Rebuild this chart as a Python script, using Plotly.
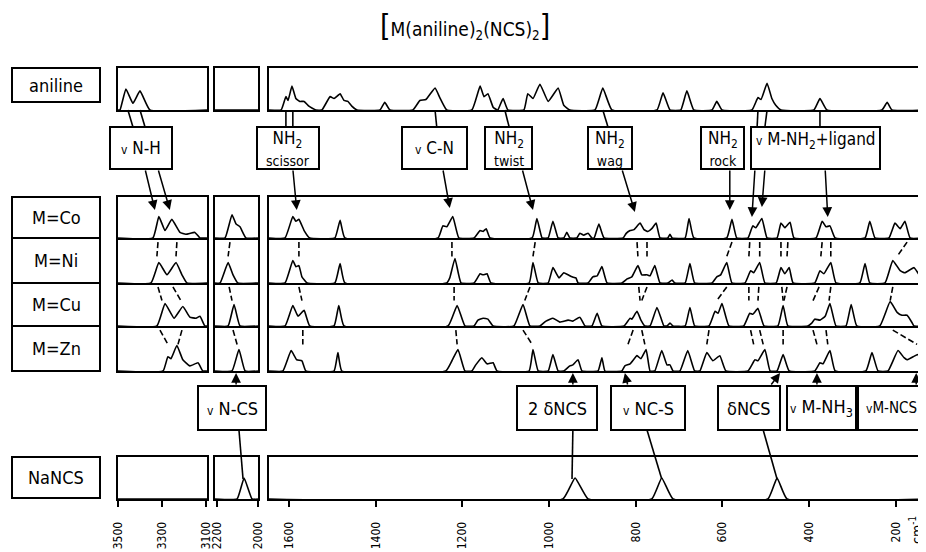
import plotly.graph_objects as go

# ------------------------------------------------------------------ data
row_names = ["aniline", "M=Co", "M=Ni", "M=Cu", "M=Zn", "NaNCS"]
panel_ranges = [(3500, 3095), (2210, 2000), (1646, 135)]
tick_values = [[3500, 3300, 3100], [2200, 2000],
               [1600, 1400, 1200, 1000, 800, 600, 400, 200]]
tick_labels = [[str(v) for v in t] for t in tick_values]

# spectra: (wavenumber cm-1, relative intensity) vertices
aniline_hi = [(3491, 0), (3464, 22), (3432, 7), (3400, 20), (3355, 0)]
aniline_ncs = []
aniline_lo = [(1618, 0), (1607, 14), (1602, 10), (1593, 25), (1584, 12), (1575, 9), (1565, 9), (1554, 4), (1538, 0),
              (1524, 0), (1505, 14), (1496, 12), (1482, 17), (1473, 10), (1464, 9), (1455, 4), (1443, 0),
              (1390, 0), (1379, 8), (1367, 0),
              (1314, 0), (1298, 10), (1284, 11), (1263, 23), (1252, 13), (1236, 0),
              (1178, 0), (1159, 25), (1150, 14), (1141, 17), (1129, 3), (1120, 0),
              (1118, 0), (1106, 12), (1095, 0),
              (1058, 0), (1049, 17), (1037, 12), (1021, 27), (1002, 9), (979, 23), (966, 5), (952, 0),
              (894, 0), (876, 23), (855, 0),
              (751, 0), (737, 18), (721, 0),
              (696, 0), (682, 20), (666, 0),
              (624, 0), (613, 9), (601, 0),
              (532, 0), (518, 13), (511, 11), (497, 28), (486, 12), (477, 5), (465, 0),
              (389, 0), (375, 12), (359, 0),
              (232, 0), (220, 8), (209, 0)]

co_hi = [(3341, 0), (3314, 23), (3286, 8), (3255, 20), (3218, 6), (3191, 4), (3150, 6), (3127, 0)]
co_ncs = [(2161, 0), (2127, 25), (2107, 15), (2088, 12), (2059, 0)]
co_lo = [(1609, 0), (1591, 23), (1584, 18), (1577, 20), (1565, 8), (1552, 0),
         (1494, 0), (1482, 19), (1471, 0),
         (1256, 0), (1245, 13), (1236, 12), (1222, 23), (1208, 0),
         (1173, 0), (1159, 8), (1152, 7), (1145, 10), (1136, 0),
         (1039, 0), (1028, 21), (1016, 0),
         (1002, 0), (991, 18), (979, 0),
         (966, 0), (959, 6), (952, 0),
         (936, 0), (929, 5), (920, 3), (910, 5), (901, 0),
         (896, 0), (885, 15), (873, 0),
         (829, 0), (822, 5), (813, 8), (804, 9), (790, 16), (781, 9), (772, 7), (763, 10), (753, 16), (744, 0),
         (726, 0), (721, 4), (716, 0),
         (686, 0), (677, 21), (666, 0),
         (590, 0), (578, 20), (567, 0),
         (541, 0), (530, 13), (523, 11), (509, 21), (497, 0),
         (474, 0), (465, 16), (456, 11), (444, 17), (435, 0),
         (384, 0), (370, 18), (361, 12), (352, 13), (340, 0),
         (271, 0), (260, 18), (248, 0),
         (216, 0), (202, 16), (190, 10), (179, 18), (167, 0)]

ni_hi = [(3350, 0), (3314, 20), (3277, 8), (3236, 20), (3209, 8), (3186, 0)]
ni_ncs = [(2185, 0), (2146, 20), (2122, 8), (2098, 0)]
ni_lo = [(1609, 0), (1591, 22), (1584, 16), (1577, 17), (1570, 6), (1558, 0),
         (1494, 0), (1482, 19), (1471, 0),
         (1236, 0), (1229, 5), (1217, 24), (1203, 0),
         (1173, 0), (1159, 9), (1152, 8), (1143, 9), (1134, 0),
         (1046, 0), (1037, 20), (1025, 0),
         (1002, 0), (991, 15), (977, 5), (966, 10), (956, 8), (947, 6), (938, 5), (933, 0),
         (910, 0), (899, 6), (889, 7), (878, 16), (866, 0),
         (832, 0), (820, 4), (809, 6), (795, 17), (786, 8), (774, 8), (767, 7), (756, 17), (744, 0),
         (726, 0), (716, 3), (710, 0),
         (686, 0), (675, 19), (664, 0),
         (624, 0), (613, 6), (604, 8), (590, 20), (578, 0),
         (548, 0), (535, 12), (528, 10), (514, 20), (502, 0),
         (476, 0), (465, 15), (456, 9), (446, 15), (437, 0),
         (387, 0), (375, 12), (366, 9), (350, 20), (338, 0),
         (283, 0), (271, 19), (260, 0),
         (225, 0), (207, 22), (190, 12), (179, 10), (158, 15), (142, 5), (135, 0)]

cu_hi = [(3323, 0), (3286, 23), (3245, 8), (3205, 20), (3173, 9), (3145, 8), (3127, 10), (3105, 0)]
cu_ncs = [(2146, 0), (2117, 22), (2088, 0)]
cu_lo = [(1609, 0), (1591, 21), (1579, 10), (1565, 16), (1552, 0),
         (1496, 0), (1485, 21), (1473, 0),
         (1233, 0), (1212, 21), (1194, 0),
         (1173, 0), (1164, 6), (1152, 8), (1141, 7), (1129, 0),
         (1081, 0), (1060, 22), (1044, 0),
         (1021, 0), (1007, 5), (991, 8), (975, 4), (956, 6), (945, 5), (929, 9), (917, 0),
         (901, 0), (889, 13), (878, 0),
         (827, 0), (813, 8), (809, 7), (797, 15), (788, 6), (779, 0),
         (767, 0), (751, 19), (735, 0),
         (728, 0), (721, 3), (714, 0),
         (686, 0), (675, 19), (664, 0),
         (631, 0), (617, 15), (610, 13), (601, 23), (585, 0),
         (551, 0), (537, 13), (530, 12), (518, 18), (504, 0),
         (472, 0), (460, 21), (449, 0),
         (403, 0), (394, 3), (387, 7), (375, 6), (363, 10), (352, 23), (338, 0),
         (315, 0), (303, 22), (290, 0),
         (237, 0), (213, 25), (197, 14), (186, 11), (174, 11), (162, 3), (158, 0)]

zn_hi = [(3295, 0), (3273, 14), (3259, 12), (3232, 25), (3205, 11), (3173, 5), (3136, 8), (3114, 0)]
zn_ncs = [(2127, 0), (2093, 21), (2063, 0)]
zn_lo = [(1614, 0), (1595, 20), (1582, 11), (1570, 10), (1561, 0),
         (1496, 0), (1487, 18), (1478, 0),
         (1238, 0), (1224, 10), (1210, 21), (1194, 0),
         (1178, 0), (1169, 6), (1155, 13), (1143, 7), (1129, 8), (1120, 0),
         (1046, 0), (1037, 21), (1025, 0),
         (1002, 0), (991, 16), (979, 0),
         (966, 0), (952, 5), (945, 6), (933, 11), (924, 0),
         (887, 0), (878, 13), (871, 0),
         (832, 0), (825, 5), (813, 7), (797, 15), (788, 12), (776, 21), (767, 0),
         (756, 0), (740, 20), (728, 6), (721, 6), (714, 0),
         (698, 0), (680, 20), (664, 0),
         (652, 0), (636, 18), (622, 10), (606, 15), (592, 0),
         (541, 0), (525, 11), (518, 10), (502, 21), (490, 0),
         (474, 0), (460, 16), (446, 0),
         (387, 0), (375, 8), (368, 7), (352, 20), (340, 0),
         (269, 0), (255, 18), (241, 0),
         (218, 0), (195, 20), (181, 13), (174, 11), (160, 14), (149, 16), (137, 0)]

nancs_hi = []
nancs_ncs = [(2102, 0), (2068, 22), (2029, 0)]
nancs_lo = [(968, 0), (940, 22), (910, 0), (763, 0), (740, 22), (714, 0), (495, 0), (474, 22), (451, 0)]

spectra = [[aniline_hi, aniline_ncs, aniline_lo],
           [co_hi, co_ncs, co_lo],
           [ni_hi, ni_ncs, ni_lo],
           [cu_hi, cu_ncs, cu_lo],
           [zn_hi, zn_ncs, zn_lo],
           [nancs_hi, nancs_ncs, nancs_lo]]

# band shifts between successive complexes: (panel, wn in upper row, wn in lower row)
links_co_ni = [(0, 3318, 3323), (0, 3232, 3236), (1, 2137, 2146), (2, 1577, 1577), (2, 1224, 1224),
               (2, 1032, 1037), (2, 797, 795), (2, 774, 774), (2, 578, 590), (2, 537, 539), (2, 514, 514),
               (2, 465, 465), (2, 449, 451), (2, 370, 373), (2, 350, 350), (2, 174, 197)]
links_ni_cu = [(0, 3318, 3300), (0, 3250, 3214), (1, 2141, 2127), (2, 1577, 1570), (2, 1219, 1219),
               (2, 1044, 1056), (2, 793, 790), (2, 774, 786), (2, 590, 613), (2, 539, 539), (2, 516, 518),
               (2, 463, 460), (2, 451, 458), (2, 377, 391), (2, 350, 354), (2, 207, 213)]
links_cu_zn = [(0, 3309, 3273), (0, 3209, 3227), (1, 2122, 2102), (2, 1568, 1568), (2, 1215, 1212),
               (2, 1060, 1039), (2, 806, 818), (2, 786, 779), (2, 631, 636), (2, 535, 528), (2, 514, 506),
               (2, 460, 460), (2, 391, 382), (2, 361, 357), (2, 207, 151)]

# assignments above the complexes
NU = "<span style='font-size:12px'>v</span>"
top_labels = [NU + " N-H",
              "NH<sub>2</sub><br><span style='font-size:14px'>scissor</span>",
              NU + " C-N",
              "NH<sub>2</sub><br><span style='font-size:14px'>twist</span>",
              "NH<sub>2</sub><br><span style='font-size:14px'>wag</span>",
              "NH<sub>2</sub><br><span style='font-size:14px'>rock</span>",
              NU + " M-NH<sub>2</sub>+ligand"]
top_from_aniline = [[(0, 3455, 3432), (0, 3400, 3377)], [(2, 1607, 1607), (2, 1591, 1591)], [(2, 1263, 1259)],
                    [(2, 1102, 1092)], [(2, 876, 864)], [], [(2, 518, 520), (2, 497, 502), (2, 375, 375)]]
top_to_co = [[(0, 3377, 3332), (0, 3318, 3264)], [(2, 1591, 1582)], [(2, 1245, 1229)], [(2, 1062, 1037)],
             [(2, 832, 802)], [(2, 583, 583)], [(2, 525, 532), (2, 502, 509), (2, 363, 357)]]

# assignments below the complexes
bot_labels = [NU + " N-CS", "2 δNCS", NU + " NC-S", "δNCS", NU + " M-NH<sub>3</sub>", NU + "M-NCS"]
bot_from_zn = [[(1, 2107, 2107)], [(2, 945, 945)], [(2, 818, 825)], [(2, 490, 467)], [(2, 382, 382)],
               [(2, 153, 153)]]
bot_to_nancs = [[(1, 2093, 2073)], [(2, 945, 947)], [(2, 774, 740)], [(2, 506, 474)], [], []]

title_text = ("<span style='font-size:30px'>[</span>M(aniline)<sub>2</sub>(NCS)<sub>2</sub>"
              "<span style='font-size:30px'>]</span>")
unit_text = "cm<sup>-1</sup>"

# ------------------------------------------------------------------ layout geometry (pixels of the page)
PAGE_OFF = 8                      # default body margin of the html page
W, H = 926 - PAGE_OFF, 552 - PAGE_OFF
FONT = "DejaVu Sans Condensed, DejaVu Sans"
ROW_PX = [(68, 110), (197, 238), (238, 283), (283, 326), (326, 371), (457, 499)]
COL_PX = [(118, 207), (215, 258), (269, 924)]
LABEL_X = (12, 100)
LABEL_Y = [(68, 102), (197, 238), (238, 283), (283, 326), (326, 371), (457, 498)]
TOP_BOX_X = [(110, 172), (257, 319), (402, 467), (485, 532), (588, 632), (701, 744), (751, 880)]
TOP_BOX_Y = (127, 169)
TOP_TIP_Y = [[210, 210], [210], [208], [210], [212], [210], [217, 207, 217]]
BOT_BOX_X = [(198, 266), (517, 597), (611, 685), (718, 780), (787, 856), (858, 930)]
BOT_BOX_TEXT_X = [232, 557, 648, 749, 821, 891]
BOT_BOX_FONT = [18, 18, 18, 18, 18, 15]
BOT_BOX_Y = (386, 430)
ZN_TIP_Y = 373
NANCS_APEX_Y = 479
YMAX = 44


def xp(px):
    return (px - PAGE_OFF) / W


def yp(py):
    return 1 - (py - PAGE_OFF) / H


def ids(n):
    return ("x" if n == 1 else f"x{n}"), ("y" if n == 1 else f"y{n}")


def keys(n):
    return ("xaxis" if n == 1 else f"xaxis{n}"), ("yaxis" if n == 1 else f"yaxis{n}")


def label(text, x, y, size, **kw):
    d = dict(text=text, xref="paper", yref="paper", x=xp(x), y=yp(y), xanchor="center",
             yanchor="middle", showarrow=False, font=dict(family=FONT, size=size, color="black"))
    d.update(kw)
    return d


def arrow(xid, w_tail, y_tail, w_tip, y_tip):
    return dict(text="", x=w_tip, y=yp(y_tip), xref=xid, yref="paper", ax=w_tail, axref=xid,
                ay=y_tail - y_tip, ayref="pixel", showarrow=True, arrowhead=2,
                arrowsize=1.3, arrowwidth=1.5, arrowcolor="black", standoff=0)


fig = go.Figure()
layout_axes = {}
for r in range(6):
    for c in range(3):
        n = r * 3 + c + 1
        xid, yid = ids(n)
        xk, yk = keys(n)
        rng = panel_ranges[c]
        pts = spectra[r][c]
        xs = [rng[0]] + [p[0] for p in pts] + [rng[1]]
        ys = [0] + [p[1] for p in pts] + [0]
        fig.add_trace(go.Scatter(x=xs, y=ys, mode="lines", xaxis=xid, yaxis=yid,
                                 line=dict(color="black", width=1.6, shape="spline", smoothing=0.35),
                                 hoverinfo="skip", showlegend=False))
        # rows Ni, Cu, Zn share their top border with the row above
        top_line = r not in (2, 3, 4)
        xa = dict(domain=[xp(COL_PX[c][0]), xp(COL_PX[c][1])], range=list(rng), anchor=yid,
                  showline=True, mirror=top_line, linecolor="black", linewidth=2,
                  showgrid=False, zeroline=False, showticklabels=False, ticks="", fixedrange=True)
        if r == 5:
            xa.update(ticks="outside", ticklen=6, tickwidth=1.5, tickcolor="black",
                      tickvals=tick_values[c], ticktext=tick_labels[c], showticklabels=True,
                      tickangle=-90, ticklabelstandoff=10,
                      tickfont=dict(family=FONT, size=12, color="black"))
        ya = dict(domain=[yp(ROW_PX[r][1]), yp(ROW_PX[r][0])], range=[0, YMAX], anchor=xid,
                  showline=True, mirror=True, linecolor="black", linewidth=2,
                  showgrid=False, zeroline=False, showticklabels=False, ticks="", fixedrange=True)
        layout_axes[xk] = xa
        layout_axes[yk] = ya

shapes = []
annotations = []

# row label boxes
for r, name in enumerate(row_names):
    y0, y1 = LABEL_Y[r]
    shapes.append(dict(type="rect", xref="paper", yref="paper", x0=xp(LABEL_X[0]), x1=xp(LABEL_X[1]),
                       y0=yp(y1), y1=yp(y0), line=dict(color="black", width=2)))
    annotations.append(label(name, sum(LABEL_X) / 2, (y0 + y1) / 2, 18))

# correlation lines between the complexes
for links, r in [(links_co_ni, 2), (links_ni_cu, 3), (links_cu_zn, 4)]:
    for c, wa, wb in links:
        n = r * 3 + c + 1
        xid, yid = ids(n)
        shapes.append(dict(type="line", xref=xid, yref=yid, x0=wa, y0=40, x1=wb, y1=26,
                           line=dict(color="black", width=1.6, dash="6px,3px")))

# top assignment boxes
n_an = lambda c: 0 * 3 + c + 1
n_co = lambda c: 1 * 3 + c + 1
for i, text in enumerate(top_labels):
    x0, x1 = TOP_BOX_X[i]
    shapes.append(dict(type="rect", xref="paper", yref="paper", x0=xp(x0), x1=xp(x1),
                       y0=yp(TOP_BOX_Y[1]), y1=yp(TOP_BOX_Y[0]), line=dict(color="black", width=2)))
    ty = (TOP_BOX_Y[0] + TOP_BOX_Y[1]) / 2 if i < 6 else TOP_BOX_Y[0] + 13
    annotations.append(label(text, (x0 + x1) / 2, ty, 17))
    for c, wa, wb in top_from_aniline[i]:
        xid, _ = ids(n_an(c))
        shapes.append(dict(type="line", xref=xid, yref="paper", x0=wa, y0=yp(ROW_PX[0][1]), x1=wb,
                           y1=yp(TOP_BOX_Y[0]), line=dict(color="black", width=1.6)))
    for k, (c, wa, wb) in enumerate(top_to_co[i]):
        xid, _ = ids(n_co(c))
        annotations.append(arrow(xid, wa, TOP_BOX_Y[1], wb, TOP_TIP_Y[i][k]))

# bottom assignment boxes
n_zn = lambda c: 4 * 3 + c + 1
n_na = lambda c: 5 * 3 + c + 1
for i, text in enumerate(bot_labels):
    x0, x1 = BOT_BOX_X[i]
    shapes.append(dict(type="rect", xref="paper", yref="paper", x0=xp(x0), x1=xp(x1),
                       y0=yp(BOT_BOX_Y[1]), y1=yp(BOT_BOX_Y[0]), line=dict(color="black", width=2)))
    annotations.append(label(text, BOT_BOX_TEXT_X[i], (BOT_BOX_Y[0] + BOT_BOX_Y[1]) / 2, BOT_BOX_FONT[i]))
    for c, wa, wb in bot_from_zn[i]:
        xid, _ = ids(n_zn(c))
        annotations.append(arrow(xid, wa, BOT_BOX_Y[0], wb, ZN_TIP_Y))
    for c, wa, wb in bot_to_nancs[i]:
        xid, _ = ids(n_na(c))
        shapes.append(dict(type="line", xref=xid, yref="paper", x0=wa, y0=yp(BOT_BOX_Y[1]), x1=wb,
                           y1=yp(NANCS_APEX_Y), line=dict(color="black", width=1.6)))

annotations.append(label(title_text, 465, 26, 19))
annotations.append(label(unit_text, 916, 530, 14, textangle=-90))

fig.update_layout(width=W, height=H, autosize=False,
                  margin=dict(l=0, r=0, t=0, b=0, autoexpand=False),
                  paper_bgcolor="white", plot_bgcolor="rgba(0,0,0,0)", showlegend=False,
                  shapes=shapes, annotations=annotations, **layout_axes)
fig.write_html("out.html")
